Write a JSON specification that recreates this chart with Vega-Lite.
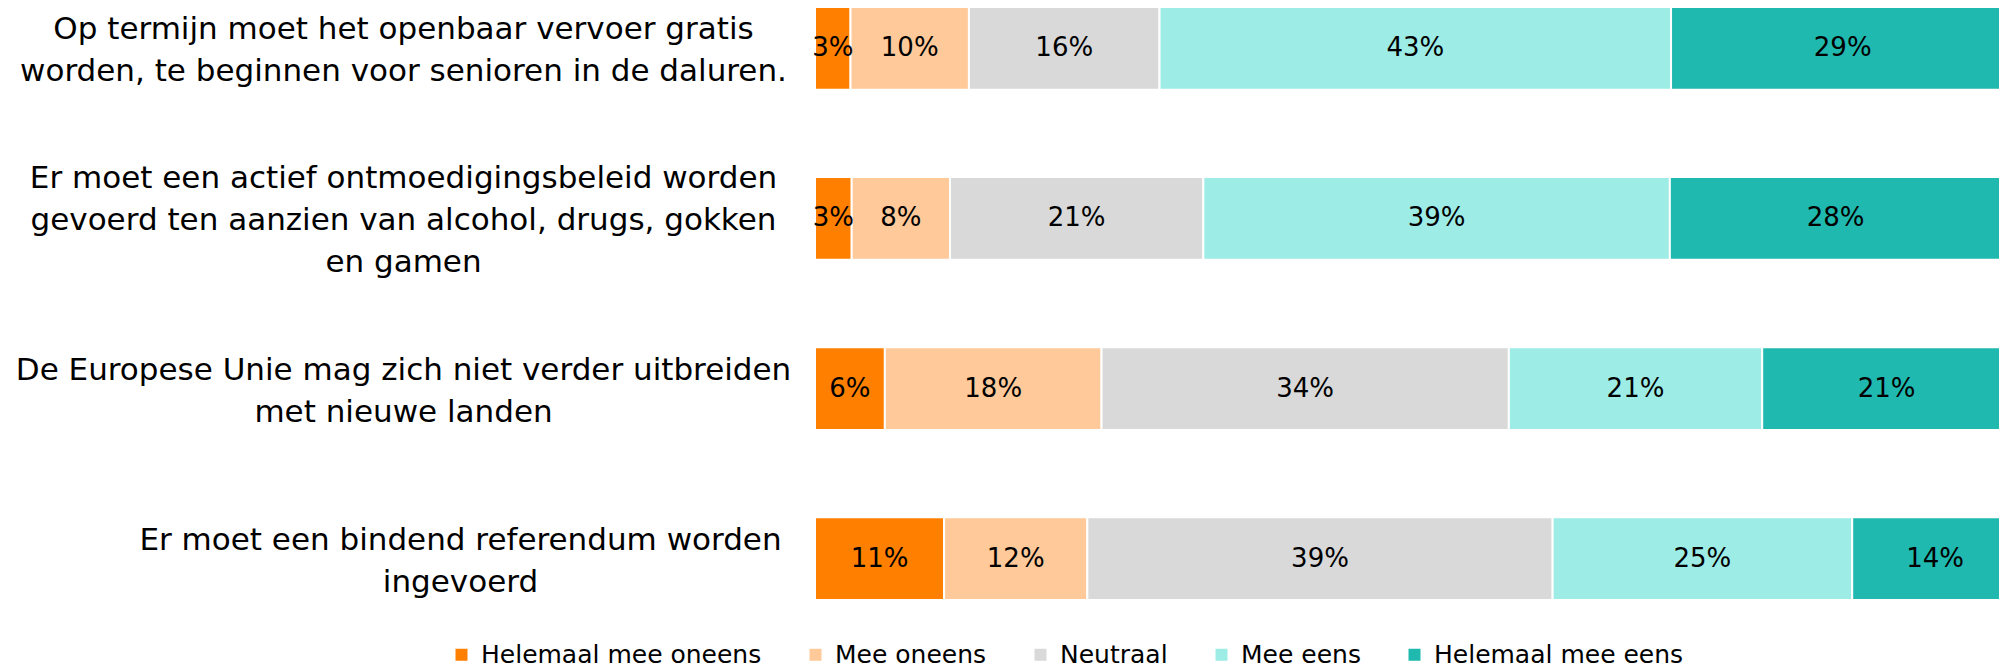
{
  "$schema": "https://vega.github.io/schema/vega-lite/v6.json",
  "width": 1184,
  "height": 593,
  "autosize": {"type": "none"},
  "padding": {"left": 815, "top": 7, "right": 0, "bottom": 70},
  "background": "#ffffff",
  "config": {"view": {"stroke": null}, "font": "DejaVu Sans"},
  "data": {"values": [
    {"stelling": "Op termijn moet het openbaar vervoer gratis\nworden, te beginnen voor senioren in de daluren.", "antwoord": "Helemaal mee oneens", "aandeel": 0.030},
    {"stelling": "Op termijn moet het openbaar vervoer gratis\nworden, te beginnen voor senioren in de daluren.", "antwoord": "Mee oneens", "aandeel": 0.100},
    {"stelling": "Op termijn moet het openbaar vervoer gratis\nworden, te beginnen voor senioren in de daluren.", "antwoord": "Neutraal", "aandeel": 0.161},
    {"stelling": "Op termijn moet het openbaar vervoer gratis\nworden, te beginnen voor senioren in de daluren.", "antwoord": "Mee eens", "aandeel": 0.432},
    {"stelling": "Op termijn moet het openbaar vervoer gratis\nworden, te beginnen voor senioren in de daluren.", "antwoord": "Helemaal mee eens", "aandeel": 0.290},
    {"stelling": "Er moet een actief ontmoedigingsbeleid worden\ngevoerd ten aanzien van alcohol, drugs, gokken\nen gamen", "antwoord": "Helemaal mee oneens", "aandeel": 0.031},
    {"stelling": "Er moet een actief ontmoedigingsbeleid worden\ngevoerd ten aanzien van alcohol, drugs, gokken\nen gamen", "antwoord": "Mee oneens", "aandeel": 0.083},
    {"stelling": "Er moet een actief ontmoedigingsbeleid worden\ngevoerd ten aanzien van alcohol, drugs, gokken\nen gamen", "antwoord": "Neutraal", "aandeel": 0.214},
    {"stelling": "Er moet een actief ontmoedigingsbeleid worden\ngevoerd ten aanzien van alcohol, drugs, gokken\nen gamen", "antwoord": "Mee eens", "aandeel": 0.394},
    {"stelling": "Er moet een actief ontmoedigingsbeleid worden\ngevoerd ten aanzien van alcohol, drugs, gokken\nen gamen", "antwoord": "Helemaal mee eens", "aandeel": 0.280},
    {"stelling": "De Europese Unie mag zich niet verder uitbreiden\nmet nieuwe landen", "antwoord": "Helemaal mee oneens", "aandeel": 0.059},
    {"stelling": "De Europese Unie mag zich niet verder uitbreiden\nmet nieuwe landen", "antwoord": "Mee oneens", "aandeel": 0.183},
    {"stelling": "De Europese Unie mag zich niet verder uitbreiden\nmet nieuwe landen", "antwoord": "Neutraal", "aandeel": 0.344},
    {"stelling": "De Europese Unie mag zich niet verder uitbreiden\nmet nieuwe landen", "antwoord": "Mee eens", "aandeel": 0.214},
    {"stelling": "De Europese Unie mag zich niet verder uitbreiden\nmet nieuwe landen", "antwoord": "Helemaal mee eens", "aandeel": 0.210},
    {"stelling": "Er moet een bindend referendum worden\ningevoerd", "antwoord": "Helemaal mee oneens", "aandeel": 0.109},
    {"stelling": "Er moet een bindend referendum worden\ningevoerd", "antwoord": "Mee oneens", "aandeel": 0.121},
    {"stelling": "Er moet een bindend referendum worden\ningevoerd", "antwoord": "Neutraal", "aandeel": 0.393},
    {"stelling": "Er moet een bindend referendum worden\ningevoerd", "antwoord": "Mee eens", "aandeel": 0.253},
    {"stelling": "Er moet een bindend referendum worden\ningevoerd", "antwoord": "Helemaal mee eens", "aandeel": 0.140}
  ]},
  "transform": [
    {"calculate": "indexof(['Helemaal mee oneens', 'Mee oneens', 'Neutraal', 'Mee eens', 'Helemaal mee eens'], datum.antwoord)", "as": "rang"}
  ],
  "encoding": {
    "y": {
      "field": "stelling", "type": "nominal", "sort": null, "title": null,
      "scale": {"paddingInner": 0.514, "paddingOuter": 0},
      "axis": {
        "domain": false, "ticks": false, "tickSize": 0,
        "labelFont": "DejaVu Sans", "labelFontSize": 31, "labelLineHeight": 42,
        "labelAlign": "center", "labelBaseline": "middle", "labelColor": "#000000",
        "labelLimit": 1000,
        "labelPadding": {"condition": {"test": "indexof(datum.value, 'referendum') >= 0", "value": 355}, "value": 412},
        "labelOffset": {"condition": {"test": "indexof(datum.value, 'gamen') >= 0", "value": -39}, "value": -18},
        "labelExpr": "split(datum.value, '\\n')"
      }
    },
    "order": {"field": "rang", "type": "quantitative"}
  },
  "layer": [
    {
      "mark": {"type": "bar", "clip": true, "stroke": "#ffffff", "strokeWidth": 2},
      "encoding": {
        "x": {"field": "aandeel", "type": "quantitative", "stack": "zero", "axis": null, "scale": {"domain": [0, 1]}},
        "color": {
          "field": "antwoord", "type": "nominal",
          "sort": ["Helemaal mee oneens", "Mee oneens", "Neutraal", "Mee eens", "Helemaal mee eens"],
          "scale": {
            "domain": ["Helemaal mee oneens", "Mee oneens", "Neutraal", "Mee eens", "Helemaal mee eens"],
            "range": ["#FF8000", "#FFC999", "#D9D9D9", "#9DEDE6", "#20B9AF"]
          },
          "legend": {
            "title": null, "orient": "none", "direction": "horizontal",
            "legendX": -366, "legendY": 635,
            "symbolType": "square", "symbolSize": 144, "symbolStrokeWidth": 0,
            "labelFont": "DejaVu Sans", "labelFontSize": 25, "labelColor": "#000000",
            "labelOffset": 7, "columnPadding": 41, "labelLimit": 500
          }
        }
      }
    },
    {
      "mark": {"type": "text", "fontSize": 26, "baseline": "middle", "align": "center", "font": "DejaVu Sans", "fill": "#000000"},
      "encoding": {
        "x": {"field": "aandeel", "type": "quantitative", "stack": "zero", "bandPosition": 0.5, "axis": null, "scale": {"domain": [0, 1]}},
        "detail": {"field": "antwoord", "type": "nominal"},
        "text": {"field": "aandeel", "type": "quantitative", "format": ".0%"}
      }
    }
  ]
}
